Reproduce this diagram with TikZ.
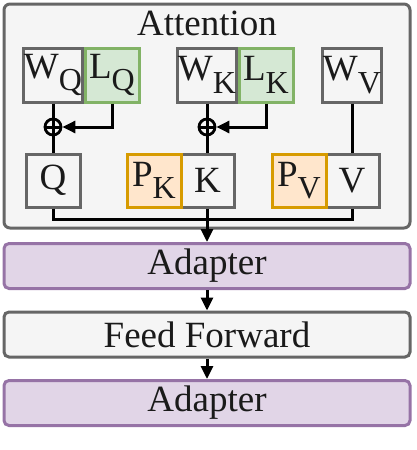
\documentclass[tikz,border=0pt]{standalone}
\usepackage{fontspec}
\setmainfont{Liberation Serif}
\usetikzlibrary{arrows.meta}
\definecolor{grayfill}{HTML}{F5F5F5}
\definecolor{graydraw}{HTML}{666666}
\definecolor{greenfill}{HTML}{D5E8D4}
\definecolor{greendraw}{HTML}{82B366}
\definecolor{orangefill}{HTML}{FFE6CC}
\definecolor{orangedraw}{HTML}{D79B00}
\definecolor{purplefill}{HTML}{E1D5E7}
\definecolor{purpledraw}{HTML}{9673A6}
\definecolor{txt}{HTML}{1A1A1A}
\newcommand{\sbs}[1]{\raisebox{-0.34em}{\fontsize{32}{32}\selectfont #1}}
\tikzset{
  base/.style={font=\fontsize{37}{40}\selectfont, text=txt, line width=3pt, inner sep=0pt},
  sq/.style={base, draw=graydraw, fill=grayfill, minimum width=54pt, minimum height=54pt},
  gsq/.style={sq, draw=greendraw, fill=greenfill},
  osq/.style={sq, draw=orangedraw, fill=orangefill},
  wide/.style={base, draw=graydraw, fill=grayfill, rounded corners=5pt, minimum width=406pt, minimum height=45pt},
  pwide/.style={wide, draw=purpledraw, fill=purplefill},
  conn/.style={line width=3pt, black},
  arr/.style={conn, -{Triangle[length=13pt,width=12pt]}},
  opl/.style={circle, draw=black, line width=2.8pt, minimum size=16pt, inner sep=0pt}
}
\begin{document}
\begin{tikzpicture}[x=1pt,y=-1pt]
\useasboundingbox (0,0) rectangle (416,450);
% outer attention box
\node[base, draw=graydraw, fill=grayfill, rounded corners=6pt, minimum width=406pt, minimum height=224pt] (att) at (207,116) {};
\node[base, anchor=base] (atttxt) at (207,35) {Attention};
% top row
\node[sq] (wq) at (53,75) {W\sbs{Q}};
\node[gsq] (lq) at (112,75) {L\sbs{Q}};
\node[sq] (wk) at (207,75) {W\sbs{K}};
\node[gsq] (lk) at (266,75) {L\sbs{K}};
\node[sq] (wv) at (352,75) {W\sbs{V}};
% bottom row
\node[sq, minimum height=53pt] (q) at (53,180.5) {Q};
\node[sq, minimum height=53pt] (k) at (207.5,180.5) {K};
\node[sq, minimum height=53pt] (v) at (352,180.5) {V};
\node[osq, minimum height=53pt] (pk) at (154,180.5) {P\sbs{K}};
\node[osq, minimum height=53pt] (pv) at (299,180.5) {P\sbs{V}};
% oplus
\node[opl] (pq) at (53,127) {};
\node[opl] (pkk) at (207,127) {};
\draw[conn] (pq.west) -- (pq.east);
\draw[conn] (pkk.west) -- (pkk.east);
\draw[conn] (wq.south) -- (pq.south) -- (q.north);
\draw[conn] (wk.south) -- (pkk.south) -- (k.north -| pkk.south);
\draw[arr] (lq.south) |- (pq.east);
\draw[arr] (lk.south) |- (pkk.east);
\draw[conn] (wv.south) -- (v.north);
% merge line
\coordinate (mq) at (53,219);
\coordinate (mv) at (352,219);
\coordinate (mk) at (207,219);
\draw[conn] (q.south) -- (mq) -- (mv) -- (v.south);
\draw[conn] (k.south -| mk) -- (mk);
% lower blocks
\node[pwide] (ad1) at (207,266) {Adapter};
\node[wide] (ff) at (207,334.5) {Feed Forward};
\node[pwide] (ad2) at (207,403) {Adapter};
\draw[arr] (mk) -- (ad1.north);
\draw[arr] (ad1.south) -- (ff.north);
\draw[arr] (ff.south) -- (ad2.north);
\end{tikzpicture}
\end{document}
